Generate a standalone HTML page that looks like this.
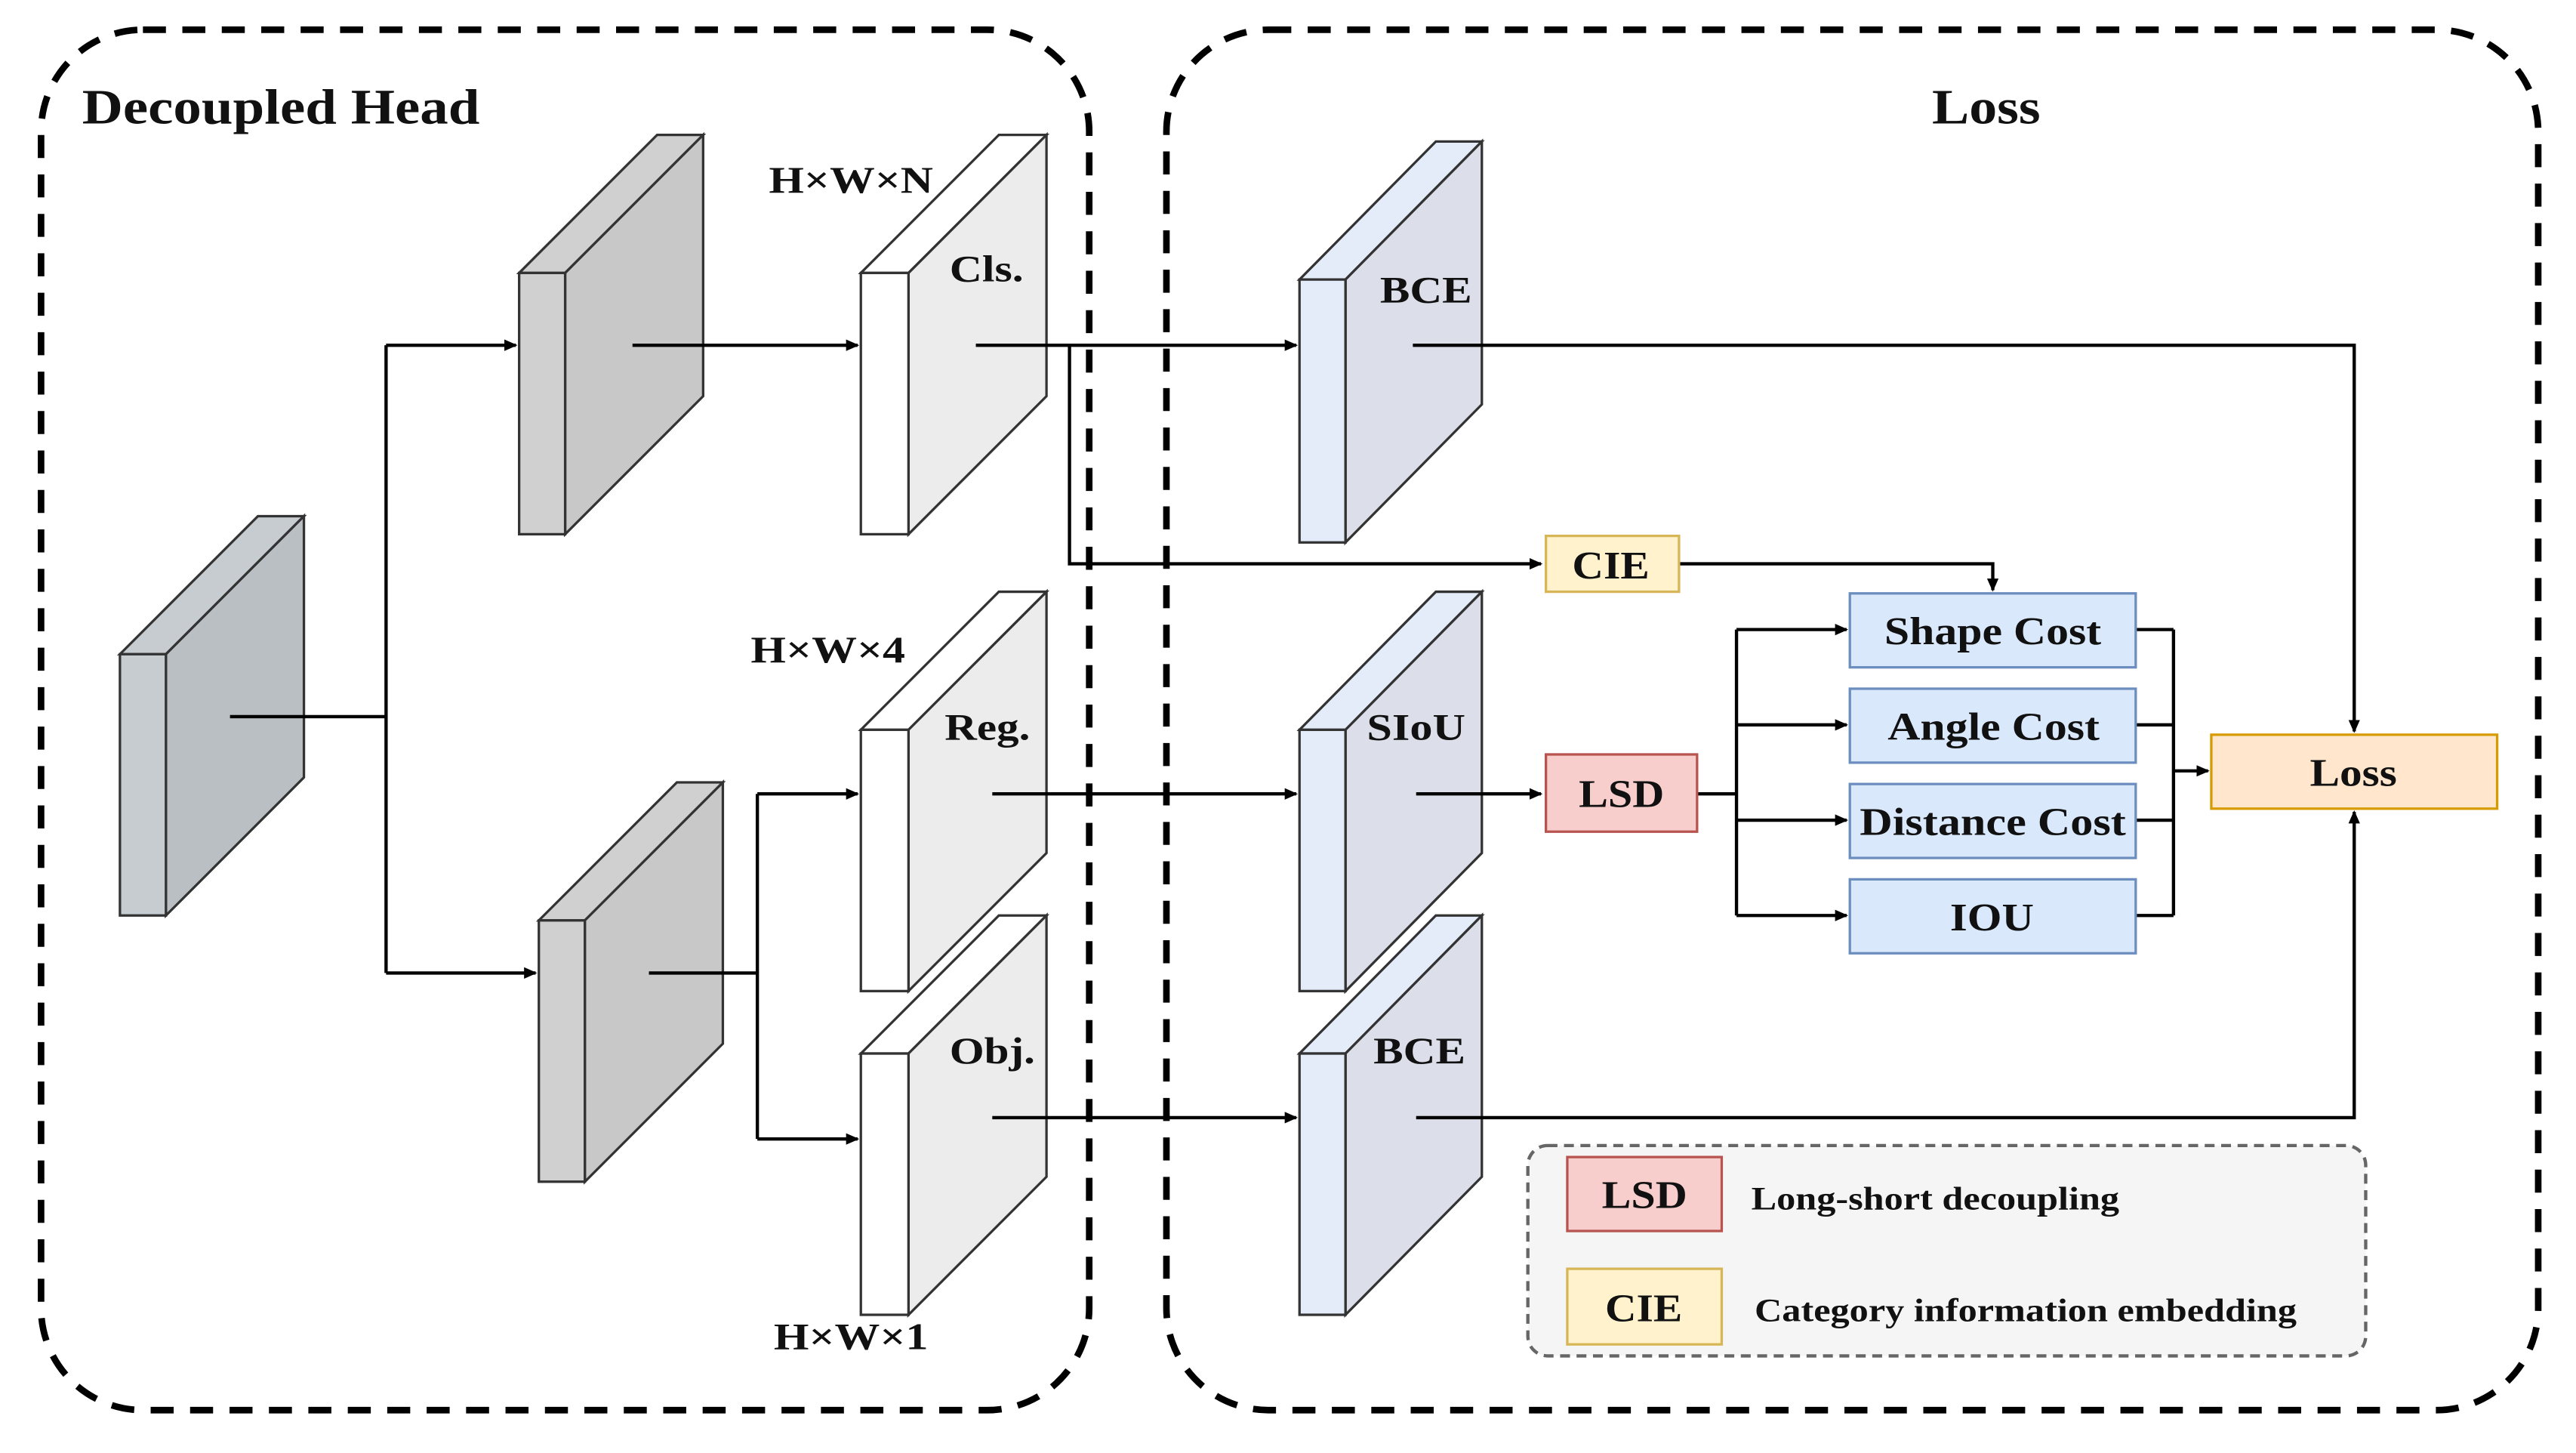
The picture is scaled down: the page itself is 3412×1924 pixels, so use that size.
<!DOCTYPE html>
<html><head><meta charset="utf-8"><style>
html,body{margin:0;padding:0;background:#fff;}
svg{display:block;}
text{font-family:"Liberation Serif","DejaVu Serif",serif;font-weight:bold;fill:#111;}
</style></head><body>
<svg width="3412" height="1924" viewBox="0 0 1568 884" xmlns="http://www.w3.org/2000/svg">
<defs>
<marker id="a" markerWidth="8" markerHeight="8" refX="7" refY="4" orient="auto" markerUnits="userSpaceOnUse">
<path d="M0,0.5 L8,4 L0,7.5 z" fill="#000"/></marker>
</defs>
<rect width="1568" height="884" fill="#fff"/>
<rect x="25" y="18" width="638" height="840" rx="62" fill="none" stroke="#000" stroke-width="4" stroke-dasharray="14 10"/>
<rect x="710" y="18" width="835" height="840" rx="62" fill="none" stroke="#000" stroke-width="4" stroke-dasharray="14 10"/>
<text x="50" y="75" font-size="30" textLength="242" lengthAdjust="spacingAndGlyphs">Decoupled Head</text>
<text x="1176" y="75" font-size="30" textLength="66" lengthAdjust="spacingAndGlyphs">Loss</text>

<g stroke="#333" stroke-width="1.5">
<polygon points="73,398 157,314 185,314 101,398" fill="#c6ccd0"/>
<polygon points="101,398 185,314 185,473 101,557" fill="#b9bfc3"/>
<rect x="73" y="398" width="28" height="159" fill="#c6ccd0"/>
<polygon points="316,166 400,82 428,82 344,166" fill="#d0d0d0"/>
<polygon points="344,166 428,82 428,241 344,325" fill="#c8c8c8"/>
<rect x="316" y="166" width="28" height="159" fill="#d0d0d0"/>
<polygon points="328,560 412,476 440,476 356,560" fill="#d0d0d0"/>
<polygon points="356,560 440,476 440,635 356,719" fill="#c8c8c8"/>
<rect x="328" y="560" width="28" height="159" fill="#d0d0d0"/>
<polygon points="524,166 608,82 637,82 553,166" fill="#fff"/>
<polygon points="553,166 637,82 637,241 553,325" fill="#ececec"/>
<rect x="524" y="166" width="29" height="159" fill="#fff"/>
<polygon points="524,444 608,360 637,360 553,444" fill="#fff"/>
<polygon points="553,444 637,360 637,519 553,603" fill="#ececec"/>
<rect x="524" y="444" width="29" height="159" fill="#fff"/>
<polygon points="524,641 608,557 637,557 553,641" fill="#fff"/>
<polygon points="553,641 637,557 637,716 553,800" fill="#ececec"/>
<rect x="524" y="641" width="29" height="159" fill="#fff"/>
<polygon points="791,170 874,86 902,86 819,170" fill="#e4ecfa"/>
<polygon points="819,170 902,86 902,246 819,330" fill="#dcdfe9"/>
<rect x="791" y="170" width="28" height="160" fill="#e4ecfa"/>
<polygon points="791,444 874,360 902,360 819,444" fill="#e4ecfa"/>
<polygon points="819,444 902,360 902,519 819,603" fill="#dcdfe9"/>
<rect x="791" y="444" width="28" height="159" fill="#e4ecfa"/>
<polygon points="791,641 874,557 902,557 819,641" fill="#e4ecfa"/>
<polygon points="819,641 902,557 902,716 819,800" fill="#dcdfe9"/>
<rect x="791" y="641" width="28" height="159" fill="#e4ecfa"/>
</g>

<g stroke="#000" stroke-width="2" fill="none">
<path d="M140,436 H235 M235,210 V592"/>
<path d="M235,210 H314" marker-end="url(#a)"/>
<path d="M235,592 H326" marker-end="url(#a)"/>
<path d="M385,210 H522" marker-end="url(#a)"/>
<path d="M395,592 H461 M461,483 V693"/>
<path d="M461,483 H522" marker-end="url(#a)"/>
<path d="M461,693 H522" marker-end="url(#a)"/>
<path d="M594,210 H789" marker-end="url(#a)"/>
<path d="M651,210 V343 H938" marker-end="url(#a)"/>
<path d="M1022,343 H1213 V359" marker-end="url(#a)"/>
<path d="M860,210 H1433 V445" marker-end="url(#a)"/>
<path d="M604,483 H789" marker-end="url(#a)"/>
<path d="M862,483 H938" marker-end="url(#a)"/>
<path d="M1033,483 H1057 M1057,383 V557"/>
<path d="M1057,383 H1124" marker-end="url(#a)"/>
<path d="M1057,441 H1124" marker-end="url(#a)"/>
<path d="M1057,499 H1124" marker-end="url(#a)"/>
<path d="M1057,557 H1124" marker-end="url(#a)"/>
<path d="M1300,383 H1323 M1300,441 H1323 M1300,499 H1323 M1300,557 H1323 M1323,383 V557"/>
<path d="M1323,469 H1344" marker-end="url(#a)"/>
<path d="M604,680 H789" marker-end="url(#a)"/>
<path d="M862,680 H1433 V494" marker-end="url(#a)"/>
</g>

<rect x="941" y="326" width="81" height="34" fill="#fff2cc" stroke="#d6b656" stroke-width="1.5"/>
<text x="957" y="352" font-size="24" textLength="47" lengthAdjust="spacingAndGlyphs">CIE</text>
<rect x="941" y="459" width="92" height="47" fill="#f8cecc" stroke="#b85450" stroke-width="1.5"/>
<text x="961" y="491" font-size="24" textLength="52" lengthAdjust="spacingAndGlyphs">LSD</text>
<g fill="#dae8fc" stroke="#6c8ebf" stroke-width="1.5">
<rect x="1126" y="361" width="174" height="45"/>
<rect x="1126" y="419" width="174" height="45"/>
<rect x="1126" y="477" width="174" height="45"/>
<rect x="1126" y="535" width="174" height="45"/>
</g>
<text x="1147" y="392" font-size="24" textLength="132" lengthAdjust="spacingAndGlyphs">Shape Cost</text>
<text x="1149" y="450" font-size="24" textLength="129" lengthAdjust="spacingAndGlyphs">Angle Cost</text>
<text x="1132" y="508" font-size="24" textLength="162" lengthAdjust="spacingAndGlyphs">Distance Cost</text>
<text x="1187" y="566" font-size="24" textLength="51" lengthAdjust="spacingAndGlyphs">IOU</text>
<rect x="1346" y="447" width="174" height="45" fill="#ffe6cc" stroke="#d79b00" stroke-width="1.5"/>
<text x="1406" y="478" font-size="24" textLength="53" lengthAdjust="spacingAndGlyphs">Loss</text>

<rect x="930" y="697" width="510" height="128" rx="12" fill="#f5f5f5" stroke="#666" stroke-width="2" stroke-dasharray="6 4"/>
<rect x="954" y="704" width="94" height="45" fill="#f8cecc" stroke="#b85450" stroke-width="1.5"/>
<text x="975" y="735" font-size="24" textLength="52" lengthAdjust="spacingAndGlyphs">LSD</text>
<rect x="954" y="772" width="94" height="46" fill="#fff2cc" stroke="#d6b656" stroke-width="1.5"/>
<text x="977" y="804" font-size="24" textLength="47" lengthAdjust="spacingAndGlyphs">CIE</text>
<text x="1066" y="736" font-size="20" textLength="224" lengthAdjust="spacingAndGlyphs">Long-short decoupling</text>
<text x="1068" y="804" font-size="20" textLength="330" lengthAdjust="spacingAndGlyphs">Category information embedding</text>

<text x="468" y="117" font-size="23" textLength="100" lengthAdjust="spacingAndGlyphs">H×W×N</text>
<text x="578" y="171" font-size="23" textLength="45" lengthAdjust="spacingAndGlyphs">Cls.</text>
<text x="457" y="403" font-size="23" textLength="94" lengthAdjust="spacingAndGlyphs">H×W×4</text>
<text x="575" y="450" font-size="23" textLength="52" lengthAdjust="spacingAndGlyphs">Reg.</text>
<text x="578" y="647" font-size="23" textLength="52" lengthAdjust="spacingAndGlyphs">Obj.</text>
<text x="471" y="821" font-size="23" textLength="94" lengthAdjust="spacingAndGlyphs">H×W×1</text>
<text x="840" y="184" font-size="23" textLength="56" lengthAdjust="spacingAndGlyphs">BCE</text>
<text x="832" y="450" font-size="23" textLength="60" lengthAdjust="spacingAndGlyphs">SIoU</text>
<text x="836" y="647" font-size="23" textLength="56" lengthAdjust="spacingAndGlyphs">BCE</text>
</svg>
</body></html>
